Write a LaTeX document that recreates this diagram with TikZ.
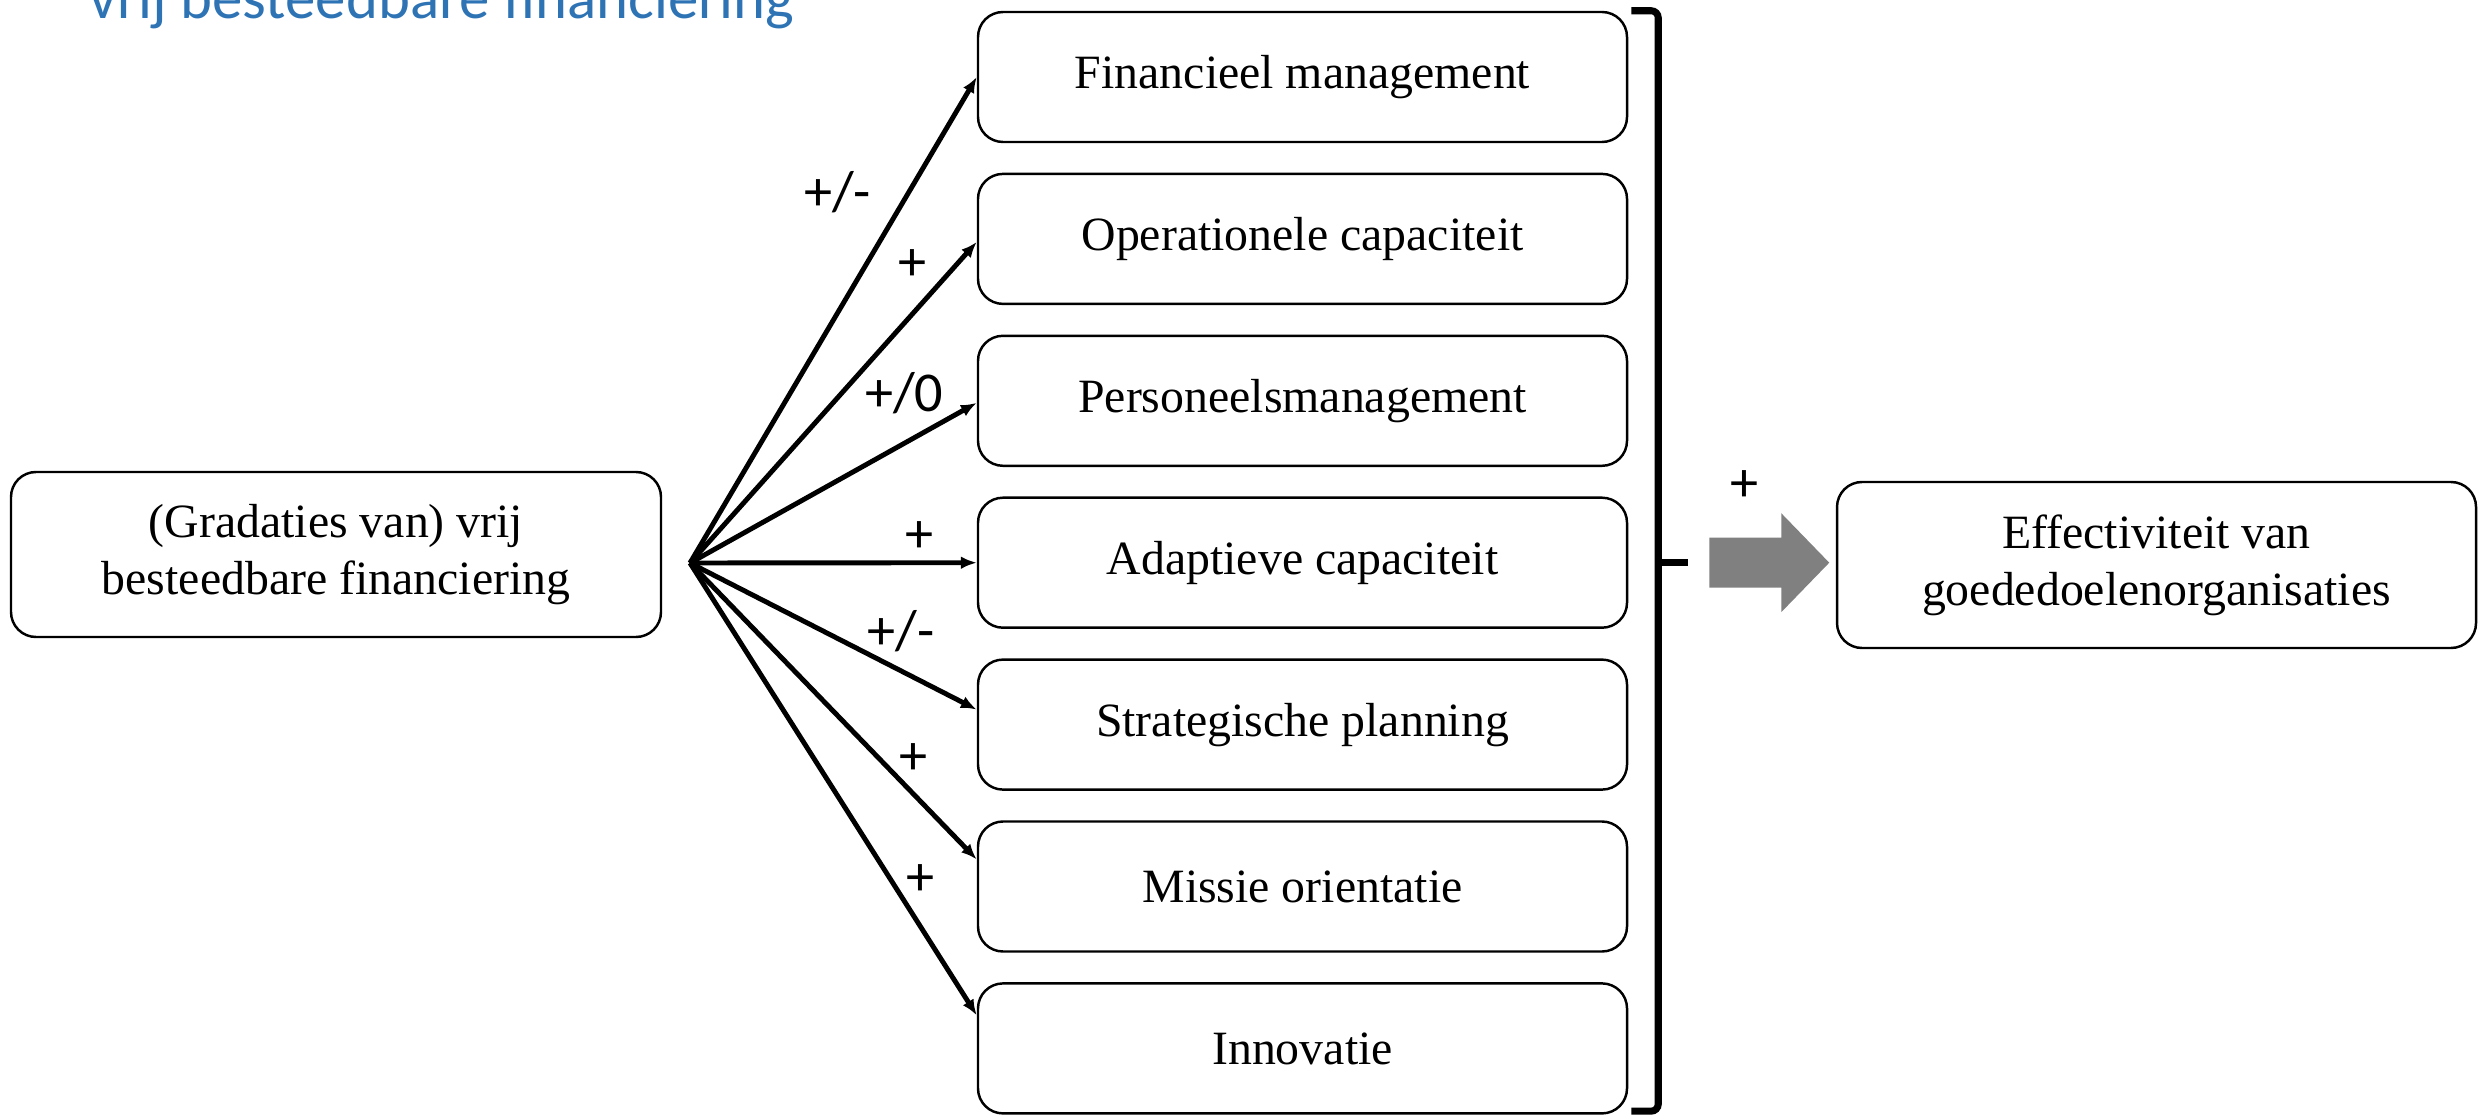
\documentclass[tikz,border=0pt]{standalone}
\usepackage{fontspec}
\setmainfont{Liberation Serif}
\newfontfamily\calfont{Carlito}
\definecolor{main}{RGB}{46,116,181}
\definecolor{second}{RGB}{128,128,128}
\usetikzlibrary{
	arrows.meta,
	positioning,
	calc
}
\tikzset{
  % arrow
	fra/.style      ={-{Latex[length=4.5pt,width=3.6pt]}, line width=1.4pt},
	fbrace/.style   ={line width=2pt, rounded corners=2pt},
	farrow/.style   ={fill=second},
  % node
	fnode/.style    ={fill=white, draw=black, text=black, rounded corners=.25cm, line width=.7pt, align=center, inner sep=0pt, font=\fontsize{13.6}{16.2}\selectfont},
	fnode1/.style   ={fnode, minimum width=6.49cm, minimum height=1.30cm},
	fnode2/.style   ={fnode, minimum width=6.50cm, minimum height=1.65cm},
	flabel/.style   ={inner sep=1pt, font=\calfont\fontsize{16}{19}\selectfont},
	ftitle/.style   ={inner sep=0pt, text=main, font=\calfont\fontsize{17.3}{20}\selectfont}
}

\begin{document}
\begin{tikzpicture}
	\useasboundingbox (0,0) rectangle (24.78,11.14);
	\node[ftitle, anchor=base west] (title) at (.89,10.95) {vrij besteedbare financiering};
	\node[fnode2] (src) at (3.36,5.595) {(Gradaties van) vrij\\besteedbare financiering};
	\coordinate (hub) at (6.90,5.51);
	\foreach \txt [count=\i] in {Financieel management, Operationele capaciteit, Personeelsmanagement, Adaptieve capaciteit, Strategische planning, Missie orientatie, Innovatie}
		\node[fnode1] (f\i) at (13.025,{10.37-1.619*(\i-1)}) {\txt};
	\draw[fra] (hub) -- (f1.west) node[flabel, pos=.70, xshift=-.53cm, yshift=.31cm] {+/-};
	\draw[fra] (hub) -- ([yshift=-.03cm]f2.west) node[flabel, pos=.86, xshift=-.24cm, yshift=.22cm] {+};
	\draw[fra] (hub) -- ([yshift=-.02cm]f3.west) node[flabel, pos=.82, xshift=-.21cm, yshift=.38cm] {+/0};
	\draw[fra] (hub) -- (f4.west) node[flabel, pos=.80, yshift=.26cm] {+};
	\draw[fra] (hub) -- ([yshift=.15cm]f5.west) node[flabel, pos=.68, xshift=.16cm, yshift=.32cm] {+/-};
	\draw[fra] (hub) -- ([yshift=.27cm]f6.west) node[flabel, pos=.72, xshift=.17cm, yshift=.17cm] {+};
	\draw[fra] (hub) -- ([yshift=.33cm]f7.west) node[flabel, pos=.73, xshift=.21cm, yshift=.13cm] {+};
	\draw[fbrace] ($(f1.north east)+(.03,0)$) -- ($(f1.north east)+(.30,0)$) -- ($(f7.south east)+(.30,.035)$) -- ($(f7.south east)+(.03,.035)$);
	\coordinate (btip) at ($(f4.east)+(.30,0)$);
	\draw[fbrace] (btip) -- ++(.30,0);
	\coordinate (atail) at ($(btip)+(.51,0)$);
	\fill[farrow] (atail) ++(0,.25) -- ++(.72,0) -- ++(0,.245) -- ++(.48,-.495) -- ++(-.48,-.495) -- ++(0,.245) -- ++(-.72,0) -- cycle;
	\node[flabel] (plus) at (17.44,6.28) {+};
	\node[fnode, minimum width=6.39cm, minimum height=1.66cm] (eff) at (21.565,5.49) {Effectiviteit van\\goededoelenorganisaties};
\end{tikzpicture}
\end{document}
